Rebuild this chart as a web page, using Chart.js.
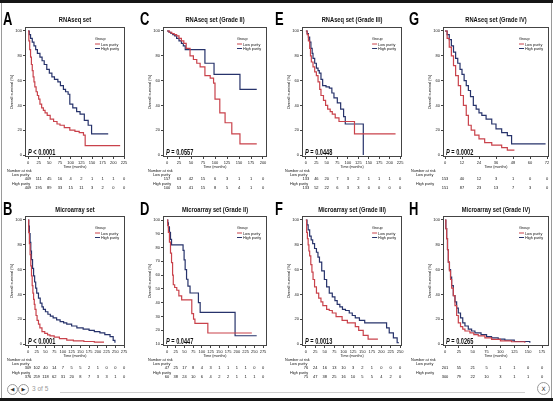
<!DOCTYPE html>
<html>
<head>
<meta charset="utf-8">
<script src="https://cdn.jsdelivr.net/npm/chart.js@4.4.1/dist/chart.umd.min.js"></script>
<style>
  html, body { margin: 0; padding: 0; background: #fff; }
  #page { position: relative; width: 553px; height: 401px; overflow: hidden; background: #fff; }
  #page canvas { position: absolute; }
  .band { position: absolute; left: 0; width: 553px; background: #161616; }
  .vline { position: absolute; top: 3px; width: 1px; height: 395px; background: #9a9a9a; }
  .circ { position: absolute; width: 9px; height: 9px; border: 1px solid #9a9a9a; border-radius: 50%;
          font: 5px "DejaVu Sans", sans-serif; color: #333; text-align: center; line-height: 9px; background: #fff; }
  .pager { position: absolute; left: 32px; top: 385px; font: 6.5px "Liberation Sans", Arial, sans-serif; color: #9a9a9a; }
</style>
</head>
<body>
<div id="page">
  <div class="band" style="top:0;height:3px"></div>
  <div class="band" style="top:398px;height:3px"></div>
  <div class="vline" style="left:1px"></div>
  <div class="vline" style="left:551px"></div>
  <div style="position:absolute;left:60px;top:392px;width:465px;height:1px;background:#cfcfcf"></div>
  <div class="circ" style="left:7px;top:384px">&#9664;</div>
  <div class="circ" style="left:18px;top:384px">&#9654;</div>
  <div class="pager">3 of 5</div>
  <div class="circ" style="left:537px;top:382px;width:11px;height:11px;line-height:11px;font-size:6px">X</div>
</div>
<script>
// ---- данные ----
const yTicks100 = [0, 20, 40, 60, 80, 100];
const yTicksD = [10, 20, 30, 40, 50, 60, 70, 80, 90, 100];

// A: RNAseq set
const aTicks = [0, 25, 50, 75, 100, 125, 150, 175, 200, 225];
const aRiskLow = [409, 111, 45, 16, 4, 2, 1, 1, 1, 0];
const aRiskHigh = [409, 195, 89, 33, 15, 11, 3, 2, 0, 0];
const aLowT = [0, 2, 4, 6, 8, 10, 12, 14, 16, 19, 22, 25, 28, 32, 36, 40, 45, 52, 60, 68, 75, 85, 98, 110, 120, 130, 134, 216];
const aLowS = [100, 92, 85, 79, 73, 68, 63, 59, 55, 51, 48, 45, 41, 38, 36, 34, 32, 29, 27, 25, 24, 22, 20, 19, 18, 16, 7.5, 7.5];
const aHighT = [0, 3, 6, 10, 14, 18, 22, 28, 33, 38, 44, 50, 56, 62, 70, 76, 83, 88, 94, 98, 105, 114, 122, 132, 141, 149, 188];
const aHighS = [100, 97, 94, 91, 88, 85, 82, 79, 76, 73, 69, 66, 63, 61, 59, 56, 53, 51, 49, 41, 38, 35, 33, 28, 24, 17, 17];

// B: Microarray set
const bTicks = [0, 25, 50, 75, 100, 125, 150, 175, 200, 225, 250, 275];
const bRiskLow = [309, 102, 40, 14, 7, 5, 5, 2, 1, 0, 0, 0];
const bRiskHigh = [376, 259, 118, 62, 31, 20, 8, 7, 3, 3, 1, 0];
const bLowT = [0, 2, 4, 6, 8, 10, 12, 14, 16, 18, 20, 23, 26, 30, 34, 40, 48, 56, 63, 75, 90, 111, 130, 160, 190, 216];
const bLowS = [100, 90, 81, 72, 63, 55, 47, 41, 36, 32, 28, 23, 19, 16, 13, 10, 8.5, 7.4, 6.5, 5.5, 4.3, 3.2, 2.6, 2, 1.5, 1];
const bHighT = [0, 2, 4, 6, 8, 10, 13, 16, 19, 22, 25, 30, 35, 40, 44, 50, 57, 64, 72, 82, 92, 102, 111, 125, 140, 158, 175, 190, 206, 220, 235, 244, 249];
const bHighS = [100, 95, 89, 82, 75, 68, 61, 55, 50, 45, 41, 37, 33, 30, 28, 26, 24, 22.5, 21, 19.5, 18, 17, 16, 14.5, 13, 12, 11, 10, 9, 7.5, 6, 3, 1];

// C: RNAseq set (Grade II)
const cTicks = [0, 25, 50, 75, 100, 125, 150, 175, 200];
const cRiskLow = [157, 63, 42, 15, 6, 3, 1, 1, 0];
const cRiskHigh = [100, 53, 41, 15, 8, 5, 4, 1, 0];
const cLowT = [0, 5, 10, 15, 20, 25, 30, 35, 40, 48, 55, 62, 69, 79, 90, 97, 100, 110, 121, 135, 152, 187];
const cLowS = [100, 99, 98, 97, 96, 94, 92, 90, 86, 80, 77, 74, 71, 64, 62, 58, 45, 34, 26, 17, 9, 9];
const cHighT = [0, 4, 8, 12, 16, 20, 25, 30, 34, 38, 79, 98, 152, 187];
const cHighS = [100, 99, 98, 97, 96, 94, 92, 90, 88, 85, 74, 65, 53, 53];

// D: Microarray set (Grade II)
const dTicks = [0, 25, 50, 75, 100, 125, 150, 175, 200, 225, 250, 275];
const dRiskLow = [47, 25, 17, 8, 4, 3, 1, 1, 1, 1, 0, 0];
const dRiskHigh = [60, 38, 24, 10, 6, 4, 2, 2, 1, 1, 1, 0];
const dLowT = [0, 2, 4, 7, 10, 13, 16, 18, 22, 28, 34, 42, 66, 71, 76, 80, 117, 243];
const dLowS = [100, 96, 91, 84, 76, 69, 60, 53, 51, 49, 45, 42, 42, 32, 28, 25, 18, 18];
const dHighT = [0, 2, 4, 7, 10, 13, 42, 46, 49, 52, 56, 60, 66, 85, 90, 95, 195, 257];
const dHighS = [100, 98, 95, 91, 86, 82, 82, 78, 71, 64, 57, 52, 47, 47, 40, 33, 16, 16];

// E: RNAseq set (Grade III)
const eTicks = [0, 25, 50, 75, 100, 125, 150, 175, 200, 225];
const eRiskLow = [133, 46, 20, 7, 3, 2, 1, 1, 1, 0];
const eRiskHigh = [133, 52, 22, 6, 3, 3, 0, 0, 0, 0];
const eLowT = [0, 3, 6, 9, 11, 13, 17, 21, 25, 29, 33, 36, 42, 47, 52, 58, 63, 70, 79, 116, 214];
const eLowS = [100, 97, 92, 86, 80, 75, 71, 67, 64, 59, 53, 48, 44, 40, 37, 35, 33, 30, 27, 17, 17];
const eHighT = [0, 3, 6, 9, 12, 15, 17, 21, 25, 29, 32, 36, 40, 48, 56, 62, 67, 75, 83, 90, 94, 137];
const eHighS = [100, 98, 95, 91, 86, 82, 78, 74, 70, 68, 66, 61, 56, 55, 54, 50, 46, 42, 37, 31, 25, 0];

// F: Microarray set (Grade III)
const fTicks = [0, 25, 50, 75, 100, 125, 150, 175, 200, 225, 250];
const fRiskLow = [76, 24, 16, 13, 10, 3, 2, 1, 0, 0, 0];
const fRiskHigh = [75, 47, 38, 25, 16, 10, 5, 5, 4, 2, 0];
const fLowT = [0, 2, 4, 6, 8, 10, 13, 16, 19, 23, 28, 34, 40, 45, 55, 62, 70, 80, 96, 110, 131, 140, 152, 165, 191];
const fLowS = [100, 90, 85, 80, 75, 71, 64, 58, 52, 46, 41, 37, 34, 31, 28, 27, 25, 22, 19, 17, 14, 11, 7, 4, 4];
const fHighT = [0, 3, 6, 10, 14, 18, 23, 28, 32, 36, 42, 49, 55, 62, 70, 77, 83, 90, 97, 105, 115, 123, 131, 142, 156, 208, 214, 221, 232, 242, 247];
const fHighS = [100, 96, 92, 87, 84, 81, 77, 74, 70, 66, 59, 52, 46, 41, 38, 35, 32, 30, 28, 27, 25, 23, 21, 19, 17, 17, 13, 9, 5, 1, 1];

// G: RNAseq set (Grade IV)
const gTicks = [0, 12, 24, 36, 48, 60, 72];
const gRiskLow = [153, 40, 12, 3, 1, 0, 0];
const gRiskHigh = [151, 87, 23, 13, 7, 3, 0];
const gLowT = [0, 1.5, 3, 4.5, 6, 7.5, 9.4, 11, 13, 15, 16.5, 18.5, 21, 24, 28, 33, 40, 44, 49];
const gLowS = [100, 94, 87, 80, 72, 64, 56, 48, 40, 32, 24, 20, 16, 13, 10, 8, 6, 4, 4];
const gHighT = [0, 1.5, 3, 4.5, 6, 7.5, 9, 10.6, 12, 13.5, 15, 16.5, 18, 20, 22, 24, 26, 29, 33, 36, 40, 44, 47, 71];
const gHighS = [100, 97, 93, 88, 83, 78, 74, 69, 65, 60, 56, 52, 47, 40, 37, 34, 32, 29, 25, 21, 18, 15.6, 9, 9];

// H: Microarray set (Grade IV)
const hTicks = [0, 25, 50, 75, 100, 125, 150, 175];
const hRiskLow = [201, 55, 21, 5, 1, 1, 0, 0];
const hRiskHigh = [300, 79, 22, 10, 3, 1, 1, 0];
const hLowT = [0, 1.5, 3, 4.5, 6, 8, 10, 12, 15, 18, 21, 24, 28, 32, 36, 45, 52, 60, 72, 84, 100, 120, 144];
const hLowS = [100, 93, 85, 76, 66, 59, 52, 45, 39, 31, 23, 17, 14, 12, 10.5, 9, 7.5, 6.5, 5, 3.8, 2.5, 1.8, 1];
const hHighT = [0, 1.5, 3, 4.5, 6, 8, 10, 12, 15, 18, 21, 24, 28, 32, 36, 42, 48, 54, 65, 75, 84, 96, 108, 125, 153];
const hHighS = [100, 93, 85, 76, 66, 60, 54, 47, 39, 34, 29, 25, 21, 17, 14.5, 12, 10.5, 9, 7.5, 6, 5, 4, 3.2, 2, 1];

// ---- раскладка ----
const FONT = '"Liberation Sans", Arial, Helvetica, sans-serif';
const RED = '#c9424b';
const BLUE = '#27336b';
const colX = [0, 135, 270, 405], colW = [135, 135, 135, 160];
const rowY = [0, 193], rowH = [193, 208];
const boxL = [25, 163, 302, 443], boxR = [125, 267, 405, 549];
const boxT = [27, 216], boxB = [157, 346];
const zeroGap = [3, 4, 4, 2];
const letterX = [3, 140, 275, 409], letterY = [25, 215];
const titleY = [22, 212];
const narX = [7, 148, 285, 411];
const YW = 10, XH = 9;

const panels = [
  { id: 'A', col: 0, row: 0, title: 'RNAseq set', p: '< 0.0001', ticks: aTicks, yTicks: yTicks100, lowT: aLowT, lowS: aLowS, highT: aHighT, highS: aHighS, riskLow: aRiskLow, riskHigh: aRiskHigh, endGap: 1 },
  { id: 'B', col: 0, row: 1, title: 'Microarray set', p: '< 0.0001', ticks: bTicks, yTicks: yTicks100, lowT: bLowT, lowS: bLowS, highT: bHighT, highS: bHighS, riskLow: bRiskLow, riskHigh: bRiskHigh, endGap: 1 },
  { id: 'C', col: 1, row: 0, title: 'RNAseq set (Grade II)', p: '= 0.0557', ticks: cTicks, yTicks: yTicks100, lowT: cLowT, lowS: cLowS, highT: cHighT, highS: cHighS, riskLow: cRiskLow, riskHigh: cRiskHigh, endGap: 4 },
  { id: 'D', col: 1, row: 1, title: 'Microarray set (Grade II)', p: '= 0.0447', ticks: dTicks, yTicks: yTicksD, lowT: dLowT, lowS: dLowS, highT: dHighT, highS: dHighS, riskLow: dRiskLow, riskHigh: dRiskHigh, endGap: 4 },
  { id: 'E', col: 2, row: 0, title: 'RNAseq set (Grade III)', p: '= 0.0448', ticks: eTicks, yTicks: yTicks100, lowT: eLowT, lowS: eLowS, highT: eHighT, highS: eHighS, riskLow: eRiskLow, riskHigh: eRiskHigh, endGap: 2 },
  { id: 'F', col: 2, row: 1, title: 'Microarray set (Grade III)', p: '= 0.0013', ticks: fTicks, yTicks: yTicks100, lowT: fLowT, lowS: fLowS, highT: fHighT, highS: fHighS, riskLow: fRiskLow, riskHigh: fRiskHigh, endGap: 2 },
  { id: 'G', col: 3, row: 0, title: 'RNAseq set (Grade IV)', p: '= 0.0002', ticks: gTicks, yTicks: yTicks100, lowT: gLowT, lowS: gLowS, highT: gHighT, highS: gHighS, riskLow: gRiskLow, riskHigh: gRiskHigh, endGap: 2 },
  { id: 'H', col: 3, row: 1, title: 'Microarray set (Grade IV)', p: '= 0.0265', ticks: hTicks, yTicks: yTicks100, lowT: hLowT, lowS: hLowS, highT: hHighT, highS: hHighS, riskLow: hRiskLow, riskHigh: hRiskHigh, endGap: 7 }
];

function pts(t, s) {
  return t.map((x, i) => ({ x: x, y: s[i] }));
}

function txt(ctx, s, x, y, size, o) {
  o = o || {};
  ctx.save();
  ctx.font = (o.style || '') + ' ' + size + 'px ' + FONT;
  ctx.textAlign = o.align || 'left';
  ctx.textBaseline = 'alphabetic';
  ctx.fillStyle = o.color || '#111';
  ctx.translate(x, y);
  if (o.rot) ctx.rotate(o.rot);
  ctx.scale(o.sx || 1, 1);
  ctx.fillText(s, 0, 0);
  ctx.restore();
}

// всё, что R рисует вокруг графика: рамка, заголовки, легенда, p-value, таблица риска
const decor = {
  id: 'decor',
  afterDraw(chart, args, o) {
    const ctx = chart.ctx, a = chart.chartArea, xs = chart.scales.x;
    const ox = o.ox, oy = o.oy;
    ctx.save();
    ctx.strokeStyle = '#444';
    ctx.lineWidth = 1;
    ctx.strokeRect(Math.round(a.left) + 0.5, Math.round(a.top) + 0.5,
                   Math.round(a.right - a.left) - 1, Math.round(a.bottom - a.top) - 1);
    ctx.restore();

    txt(ctx, o.id, o.letterX - ox, o.letterY - oy, 18, { style: 'bold', sx: 0.72, color: '#000' });
    txt(ctx, o.title, (a.left + a.right) / 2, o.titleY - oy, 6.4, { style: 'bold', align: 'center', sx: 0.9 });

    txt(ctx, 'Overall survival (%)', a.left - 12, (a.top + a.bottom) / 2, 4, { align: 'center', rot: -Math.PI / 2 });
    txt(ctx, 'Time (months)', (a.left + a.right) / 2, a.bottom + 10.5, 4, { align: 'center', sx: 0.9 });

    // легенда
    const lx = a.right - 30;
    txt(ctx, 'Group', lx, a.top + 12.5, 3.8);
    [[RED, 'Low purity', 17], [BLUE, 'High purity', 21.5]].forEach(r => {
      ctx.save();
      ctx.strokeStyle = r[0];
      ctx.lineWidth = 1;
      ctx.beginPath();
      ctx.moveTo(lx, a.top + r[2]);
      ctx.lineTo(lx + 5, a.top + r[2]);
      ctx.stroke();
      ctx.restore();
      txt(ctx, r[1], lx + 6, a.top + r[2] + 1.5, 3.8);
    });

    // p-value
    ctx.save();
    ctx.translate(a.left + 3, a.bottom - 2.5);
    ctx.scale(0.66, 1);
    ctx.fillStyle = '#111';
    ctx.textBaseline = 'alphabetic';
    ctx.font = 'italic bold 8.5px ' + FONT;
    ctx.fillText('P', 0, 0);
    const w = ctx.measureText('P ').width;
    ctx.font = 'bold 8.5px ' + FONT;
    ctx.fillText(o.p, w, 0);
    ctx.restore();

    // таблица "Number at risk"
    const nx = o.narX - ox;
    txt(ctx, 'Number at risk', nx, a.bottom + 15, 3.8);
    txt(ctx, 'Low purity', nx + 5, a.bottom + 19, 3.8);
    txt(ctx, 'High purity', nx + 5, a.bottom + 27.5, 3.8);
    o.ticks.forEach((v, i) => {
      const px = xs.getPixelForValue(v);
      txt(ctx, String(o.riskLow[i]), px, a.bottom + 23, 4, { align: 'center' });
      txt(ctx, String(o.riskHigh[i]), px, a.bottom + 32, 4, { align: 'center' });
    });
  }
};

Chart.defaults.font.family = FONT;
const page = document.getElementById('page');

panels.forEach(p => {
  const ox = colX[p.col], oy = rowY[p.row];
  const cw = colW[p.col], ch = rowH[p.row];
  const L = boxL[p.col], R = boxR[p.col], T = boxT[p.row], B = boxB[p.row];

  const tmax = p.ticks[p.ticks.length - 1];
  const kx = (R - L - zeroGap[p.col] - p.endGap) / tmax;
  const ylo = p.yTicks[0], yhi = p.yTicks[p.yTicks.length - 1];
  const ky = (B - T - 6) / (yhi - ylo);

  const cv = document.createElement('canvas');
  cv.width = cw; cv.height = ch;
  cv.style.left = ox + 'px'; cv.style.top = oy + 'px';
  cv.style.width = cw + 'px'; cv.style.height = ch + 'px';
  page.appendChild(cv);

  const axisGrid = { display: true, drawOnChartArea: false, drawTicks: true, tickLength: 2, color: '#444', lineWidth: 1 };

  new Chart(cv, {
    type: 'line',
    data: {
      datasets: [
        { label: 'Low purity', data: pts(p.lowT, p.lowS), borderColor: RED, borderWidth: 1.2, stepped: true, pointRadius: 0, fill: false },
        { label: 'High purity', data: pts(p.highT, p.highS), borderColor: BLUE, borderWidth: 1.2, stepped: true, pointRadius: 0, fill: false }
      ]
    },
    options: {
      responsive: false,
      animation: false,
      devicePixelRatio: 1,
      events: [],
      layout: { padding: { left: L - ox - YW, top: T - oy, right: ox + cw - R, bottom: oy + ch - B - XH } },
      plugins: {
        legend: { display: false },
        tooltip: { enabled: false },
        decor: {
          id: p.id, title: p.title, p: p.p, ox: ox, oy: oy,
          letterX: letterX[p.col], letterY: letterY[p.row], titleY: titleY[p.row], narX: narX[p.col],
          ticks: p.ticks, riskLow: p.riskLow, riskHigh: p.riskHigh
        }
      },
      scales: {
        x: {
          type: 'linear',
          min: -zeroGap[p.col] / kx,
          max: tmax + p.endGap / kx,
          afterBuildTicks: s => { s.ticks = p.ticks.map(v => ({ value: v })); },
          afterFit: s => { s.height = XH; },
          ticks: { font: { size: 4 }, color: '#222', padding: 1.5, maxRotation: 0, minRotation: 0, autoSkip: false, callback: v => String(v) },
          grid: axisGrid,
          border: { display: false }
        },
        y: {
          type: 'linear',
          min: ylo - 2 / ky,
          max: yhi + 4 / ky,
          afterBuildTicks: s => { s.ticks = p.yTicks.map(v => ({ value: v })); },
          afterFit: s => { s.width = YW; },
          ticks: { font: { size: 4 }, color: '#222', padding: 1, autoSkip: false, callback: v => String(v) },
          grid: axisGrid,
          border: { display: false }
        }
      }
    },
    plugins: [decor]
  });
});
</script>
</body>
</html>
